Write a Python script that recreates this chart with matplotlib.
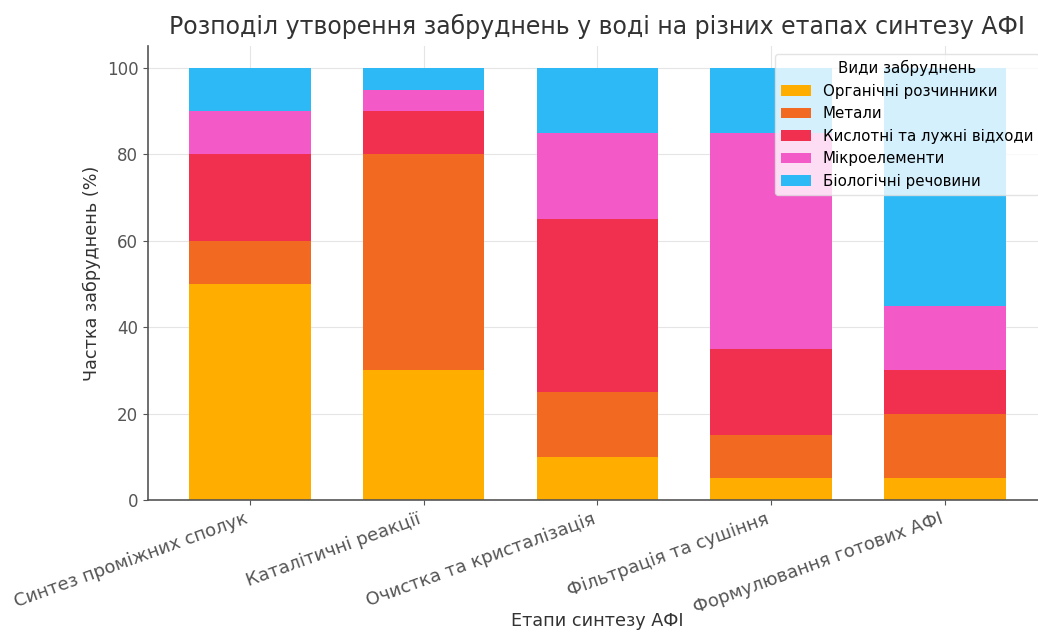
import numpy as np
import matplotlib.pyplot as plt

# Етапи синтезу та частки забруднень (%)
etapy = ["Синтез проміжних сполук", "Каталітичні реакції", "Очистка та кристалізація",
         "Фільтрація та сушіння", "Формулювання готових АФІ"]
organichni = [50, 30, 10, 5, 5]
metaly = [10, 50, 15, 10, 15]
kyslotni = [20, 10, 40, 20, 10]
mikroelementy = [10, 5, 20, 50, 15]
biologichni = [10, 5, 15, 15, 55]

nazvy = ["Органічні розчинники", "Метали", "Кислотні та лужні відходи",
         "Мікроелементи", "Біологічні речовини"]
kolory = ["#FFAE00", "#F26A22", "#F0304E", "#F35AC8", "#2DB9F6"]

fig = plt.figure(figsize=(10.38, 6.35), dpi=100)
ax = fig.add_axes([0.1426, 0.2126, 0.866, 0.7143])

x = np.arange(len(etapy))
niz = np.zeros(len(etapy))
for dani, nazva, kolir in zip([organichni, metaly, kyslotni, mikroelementy, biologichni], nazvy, kolory):
    ax.bar(x, dani, 0.7, bottom=niz, label=nazva, color=kolir, zorder=2)
    niz += np.array(dani)

ax.set_title("Розподіл утворення забруднень у воді на різних етапах синтезу АФІ",
             fontsize=17, color="#333333", pad=9)
ax.set_xlabel("Етапи синтезу АФІ", fontsize=12.7, color="#333333")
ax.xaxis.set_label_coords(0.5, -0.248)
ax.set_ylabel("Частка забруднень (%)", fontsize=12.7, color="#333333")
ax.set_xticks(x)
ax.set_xticklabels(etapy, rotation=20, ha="right", fontsize=13, color="#333333")
ax.tick_params(axis="y", labelsize=12, labelcolor="#333333")
ax.tick_params(colors="#555555")
ax.set_ylim(0, 105)
ax.grid(True, color="#e5e5e5", linewidth=0.8, zorder=0)
ax.set_axisbelow(True)
for s in ["top", "right"]:
    ax.spines[s].set_visible(False)
for s in ["left", "bottom"]:
    ax.spines[s].set_color("#555555")
    ax.spines[s].set_linewidth(1.2)

leg = ax.legend(title="Види забруднень", loc="upper right", fontsize=10.8, title_fontsize=10.8,
                framealpha=0.8, edgecolor="#dddddd")

fig.savefig("out.png", dpi=100)
